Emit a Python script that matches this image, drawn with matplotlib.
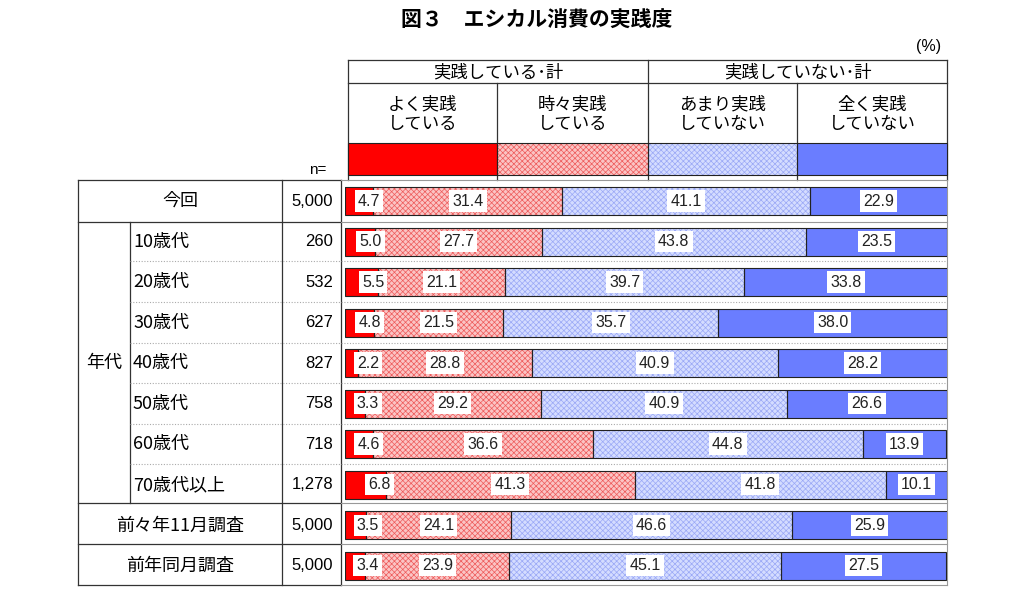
import numpy as np
import matplotlib
matplotlib.use("Agg")
import matplotlib.pyplot as plt

plt.rcParams['font.family'] = ['Noto Sans CJK JP', 'DejaVu Sans']
plt.rcParams['hatch.linewidth'] = 0.5

# data
categories = ['今回', '10歳代', '20歳代', '30歳代', '40歳代', '50歳代', '60歳代',
              '70歳代以上', '前々年11月調査', '前年同月調査']
n_labels = ['5,000', '260', '532', '627', '827', '758', '718', '1,278', '5,000', '5,000']
often = [4.7, 5.0, 5.5, 4.8, 2.2, 3.3, 4.6, 6.8, 3.5, 3.4]
sometimes = [31.4, 27.7, 21.1, 21.5, 28.8, 29.2, 36.6, 41.3, 24.1, 23.9]
rarely = [41.1, 43.8, 39.7, 35.7, 40.9, 40.9, 44.8, 41.8, 46.6, 45.1]
never = [22.9, 23.5, 33.8, 38.0, 28.2, 26.6, 13.9, 10.1, 25.9, 27.5]
series = [often, sometimes, rarely, never]
legend_top = ['実践している･計', '実践していない･計']
legend_labels = ['よく実践\nしている', '時々実践\nしている', 'あまり実践\nしていない', '全く実践\nしていない']

W, H = 1024, 604
NUMFONT = ['Liberation Sans', 'DejaVu Sans']
# (face, hatch, hatch colour) per series
styles = [('#ff0000', None, None),
          ('#fbc4c4', 'xxxxxx', '#ee5a5a'),
          ('#d4dcff', 'xxxxxx', '#9aa8f6'),
          ('#6a7dff', None, None)]
EDGE = '#222222'

fig = plt.figure(figsize=(W / 100, H / 100), dpi=100)

# overlay in pixel coords for the table frame
ov = fig.add_axes([0, 0, 1, 1], zorder=0)
ov.set_xlim(0, W)
ov.set_ylim(H, 0)
ov.axis('off')

# bar axes
x0, x1 = 345, 947
y0, y1 = 180, 586
ax = fig.add_axes([x0 / W, 1 - y1 / H, (x1 - x0) / W, (y1 - y0) / H], zorder=2)
ax.patch.set_alpha(0)
ypos = np.arange(len(categories))
ax.axis('off')

left = np.zeros(len(categories))
for k, vals in enumerate(series):
    fc, hatch, hc = styles[k]
    if hatch:
        ax.barh(ypos, vals, left=left, height=0.69, color=fc, edgecolor=hc, linewidth=0, hatch=hatch, zorder=2)
    else:
        ax.barh(ypos, vals, left=left, height=0.69, color=fc, linewidth=0, zorder=2)
    ax.barh(ypos, vals, left=left, height=0.69, fill=False, edgecolor=EDGE, linewidth=0.8, zorder=3)
    for i, v in enumerate(vals):
        if k == 0:
            xt = max(v * 0.85, 3.8)
        else:
            xt = left[i] + v / 2
        ax.text(xt, i, f'{v:.1f}', ha='center', va='center', fontsize=11.5, family=NUMFONT, color='#222222',
                bbox=dict(boxstyle='square,pad=0.2', fc='white', ec='none'), zorder=5)
    left += np.array(vals)
ax.set_xlim(0, 100)
ax.set_ylim(9.5, -0.52)

# title
ov.text(537, 20, '図３　エシカル消費の実践度', ha='center', va='center', fontsize=15, fontweight='bold')
ov.text(929, 47, '(%)', ha='center', va='center', fontsize=11.5, family=NUMFONT)

# header / legend table
lc = '#333333'
hx = [348, 497, 648, 797, 947]
ov.plot([348, 947], [60, 60], color=lc, lw=0.9)
ov.plot([348, 947], [83, 83], color=lc, lw=0.9)
for x in [348, 648, 947]:
    ov.plot([x, x], [60, 180], color=lc, lw=0.9)
for x in [497, 797]:
    ov.plot([x, x], [83, 180], color=lc, lw=0.9)
ov.text(498, 72, legend_top[0], ha='center', va='center', fontsize=12.5)
ov.text(798, 72, legend_top[1], ha='center', va='center', fontsize=12.5)
for k in range(4):
    cx = (hx[k] + hx[k + 1]) / 2
    ov.text(cx, 114, legend_labels[k], ha='center', va='center', fontsize=12.5, linespacing=1.15)
    fc, hatch, hc = styles[k]
    if hatch:
        ov.add_patch(plt.Rectangle((hx[k], 143), hx[k + 1] - hx[k], 32, fc=fc, ec=hc, lw=0, hatch=hatch, zorder=2))
    else:
        ov.add_patch(plt.Rectangle((hx[k], 143), hx[k + 1] - hx[k], 32, fc=fc, lw=0, zorder=2))
    ov.add_patch(plt.Rectangle((hx[k], 143), hx[k + 1] - hx[k], 32, fill=False, ec=EDGE, lw=0.8, zorder=3))
ov.text(318, 170, 'n=', ha='center', va='center', fontsize=11, family=NUMFONT)

# left table
row_c = [201 + 40.55 * i for i in range(len(categories))]
ov.plot([78, 78], [180, 585], color=lc, lw=0.9)
ov.plot([282, 282], [180, 585], color=lc, lw=0.9)
ov.plot([341, 341], [180, 585], color=lc, lw=0.9)
ov.plot([130, 130], [222, 503], color=lc, lw=0.9)
for y in [180, 222, 503, 544, 585]:
    ov.plot([78, 341], [y, y], color=lc, lw=0.9)
    ov.plot([341, 947], [y, y], color='#999999', lw=0.8)
for y in [261, 302, 343, 383, 424, 464]:
    ov.plot([130, 947], [y, y], color='#aaaaaa', lw=0.8, ls=(0, (1, 1.5)))
ov.plot([947, 947], [180, 585], color='#999999', lw=0.8)

for i, c in enumerate(categories):
    if 1 <= i <= 7:
        ov.text(133, row_c[i], c, ha='left', va='center', fontsize=13)
    else:
        ov.text(180, row_c[i], c, ha='center', va='center', fontsize=13)
    ov.text(333, row_c[i], n_labels[i], ha='right', va='center', fontsize=12, family=NUMFONT)
ov.text(104, 363, '年代', ha='center', va='center', fontsize=13)

fig.savefig('out.png', dpi=100)
